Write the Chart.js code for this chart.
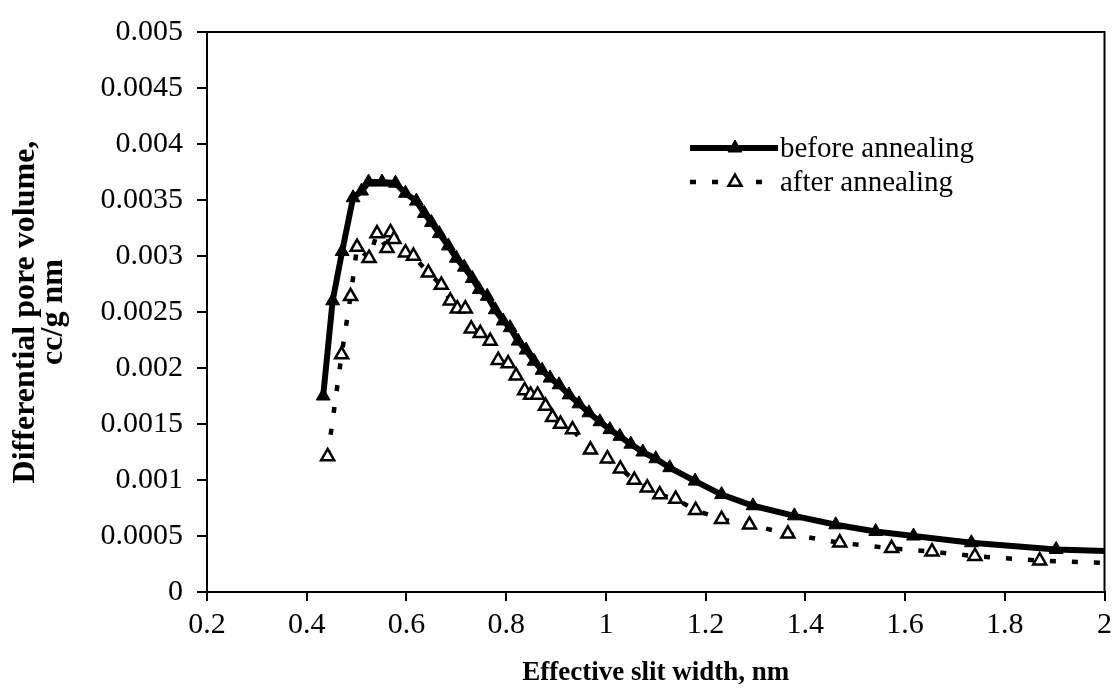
<!DOCTYPE html>
<html>
<head>
<meta charset="utf-8">
<title>Differential pore volume</title>
<script src="https://cdn.jsdelivr.net/npm/chart.js@4.4.1/dist/chart.umd.min.js"></script>
<style>
  html, body { margin: 0; padding: 0; background: #ffffff; }
  #wrap { width: 1118px; height: 696px; }
</style>
</head>
<body>
<div id="wrap"><canvas id="chart" width="1118" height="696"></canvas></div>
<script>
// Axis ticks
const xTicks = [0.2, 0.4, 0.6, 0.8, 1, 1.2, 1.4, 1.6, 1.8, 2];
const xTickLabels = ['0.2', '0.4', '0.6', '0.8', '1', '1.2', '1.4', '1.6', '1.8', '2'];
const yTicks = [0, 0.0005, 0.001, 0.0015, 0.002, 0.0025, 0.003, 0.0035, 0.004, 0.0045, 0.005];
const yTickLabels = ['0', '0.0005', '0.001', '0.0015', '0.002', '0.0025', '0.003', '0.0035', '0.004', '0.0045', '0.005'];

// Series names and axis titles
const seriesNames = ['before annealing', 'after annealing'];
const xTitle = 'Effective slit width, nm';
const yTitle = ['Differential pore volume,', 'cc/g nm'];

// Before annealing: slit width (nm) and differential pore volume (cc/g nm)
const beforeX = [0.433, 0.452, 0.471, 0.493, 0.510, 0.524, 0.551, 0.578, 0.598, 0.620,
                 0.636, 0.650, 0.666, 0.684, 0.700, 0.716, 0.732, 0.746, 0.762, 0.778,
                 0.794, 0.808, 0.824, 0.840, 0.856, 0.872, 0.888, 0.906, 0.926, 0.946,
                 0.966, 0.988, 1.008, 1.028, 1.050, 1.074, 1.100, 1.128, 1.179, 1.232,
                 1.295, 1.378, 1.461, 1.541, 1.617, 1.733, 1.903, 2.100];
const beforeY = [0.00175, 0.00260, 0.00304, 0.00352, 0.00358, 0.00366, 0.00366, 0.00365, 0.00356, 0.00349,
                 0.00338, 0.00330, 0.00320, 0.00309, 0.00298, 0.00290, 0.00280, 0.00270, 0.00264, 0.00252,
                 0.00242, 0.00236, 0.00224, 0.00216, 0.00206, 0.00198, 0.00191, 0.00185, 0.00176, 0.00168,
                 0.00160, 0.00152, 0.00145, 0.00139, 0.00132, 0.00125, 0.00119, 0.00111, 0.00099, 0.00087,
                 0.00077, 0.00068, 0.00060, 0.00054, 0.00050, 0.00044, 0.00038, 0.00035];

// After annealing
const afterX = [0.442, 0.470, 0.488, 0.501, 0.525, 0.541, 0.561, 0.568, 0.575, 0.598,
                0.614, 0.644, 0.670, 0.688, 0.702, 0.718, 0.730, 0.748, 0.768, 0.784,
                0.804, 0.820, 0.837, 0.849, 0.863, 0.879, 0.893, 0.909, 0.933, 0.969,
                1.003, 1.029, 1.057, 1.083, 1.108, 1.140, 1.180, 1.232, 1.288, 1.365,
                1.469, 1.573, 1.654, 1.740, 1.870, 2.060];
const afterY = [0.00121, 0.00212, 0.00264, 0.00308, 0.00298, 0.00320, 0.00307, 0.00321, 0.00315, 0.00303,
                0.00300, 0.00285, 0.00274, 0.00260, 0.00253, 0.00253, 0.00235, 0.00231, 0.00224, 0.00207,
                0.00204, 0.00193, 0.00180, 0.00176, 0.00176, 0.00166, 0.00156, 0.00150, 0.00145, 0.00127,
                0.00119, 0.00110, 0.00100, 0.00093, 0.00087, 0.00083, 0.00073, 0.00065, 0.00060, 0.00052,
                0.00044, 0.00039, 0.00036, 0.00032, 0.00028, 0.00025];

const toPoints = (xs, ys) => xs.map((x, i) => ({ x: x, y: ys[i] }));

const SERIF = '"Liberation Serif", "Times New Roman", "DejaVu Serif", serif';

// Frame on the top and right of the plot area
const framePlugin = {
  id: 'frame',
  afterDraw(chart) {
    const { ctx, chartArea: a } = chart;
    ctx.save();
    ctx.strokeStyle = '#000';
    ctx.lineWidth = 2;
    ctx.beginPath();
    ctx.moveTo(a.left, a.top);
    ctx.lineTo(a.right, a.top);
    ctx.lineTo(a.right, a.bottom);
    ctx.stroke();
    ctx.restore();
  }
};

// Legend drawn inside the plot area, using each dataset's own styling
const insetLegend = {
  id: 'insetLegend',
  afterDraw(chart) {
    const ctx = chart.ctx;
    const rows = [{ y: 148 }, { y: 182 }];
    const x0 = 690, x1 = 778, xm = 735, xt = 780;
    ctx.save();
    chart.data.datasets.forEach((ds, i) => {
      const y = rows[i].y;
      ctx.save();
      ctx.strokeStyle = ds.borderColor;
      ctx.lineWidth = ds.borderWidth;
      ctx.lineCap = 'butt';
      ctx.setLineDash(ds.borderDash || []);
      ctx.beginPath();
      ctx.moveTo(x0, y);
      ctx.lineTo(x1, y);
      ctx.stroke();
      ctx.restore();
      ctx.save();
      ctx.fillStyle = ds.pointBackgroundColor;
      ctx.strokeStyle = ds.pointBorderColor;
      ctx.lineWidth = ds.pointBorderWidth;
      Chart.helpers.drawPoint(ctx, {
        pointStyle: 'triangle', radius: ds.pointRadius, rotation: 0,
        borderWidth: ds.pointBorderWidth
      }, xm, y);
      ctx.restore();
      ctx.fillStyle = '#000';
      ctx.font = '29px ' + SERIF;
      ctx.textAlign = 'left';
      ctx.textBaseline = 'middle';
      ctx.fillText(ds.label, xt, y + 1);
    });
    ctx.restore();
  }
};

new Chart(document.getElementById('chart'), {
  type: 'scatter',
  data: {
    datasets: [
      {
        label: seriesNames[0],
        data: toPoints(beforeX, beforeY),
        showLine: true,
        borderColor: '#000',
        borderWidth: 6,
        pointStyle: 'triangle',
        pointRadius: 8,
        pointBackgroundColor: '#000',
        pointBorderColor: '#000',
        pointBorderWidth: 1,
        tension: 0
      },
      {
        label: seriesNames[1],
        data: toPoints(afterX, afterY),
        showLine: true,
        borderColor: '#000',
        borderWidth: 4.5,
        borderDash: [6, 16],
        pointStyle: 'triangle',
        pointRadius: 7.5,
        pointBackgroundColor: '#fff',
        pointBorderColor: '#000',
        pointBorderWidth: 2.5,
        tension: 0
      }
    ]
  },
  options: {
    responsive: false,
    devicePixelRatio: 1,
    animation: false,
    layout: { padding: { top: 24, right: 10, left: 0, bottom: 0 } },
    plugins: {
      legend: { display: false },
      tooltip: { enabled: false }
    },
    scales: {
      x: {
        type: 'linear',
        min: 0.2,
        max: 2,
        afterBuildTicks: (s) => { s.ticks = xTicks.map(v => ({ value: v })); },
        afterFit: (s) => { s.height = 104; },
        ticks: {
          color: '#000',
          font: { family: SERIF, size: 30 },
          padding: 6,
          maxRotation: 0,
          autoSkip: false,
          callback: (v, i) => xTickLabels[i]
        },
        grid: { drawOnChartArea: false, drawTicks: true, tickLength: 9, color: '#000', lineWidth: 2 },
        border: { display: true, color: '#000', width: 2 },
        title: {
          display: true,
          text: xTitle,
          color: '#000',
          font: { family: SERIF, size: 27, weight: 'bold' },
          padding: { top: 0, bottom: 7 }
        }
      },
      y: {
        type: 'linear',
        min: 0,
        max: 0.005,
        afterBuildTicks: (s) => { s.ticks = yTicks.map(v => ({ value: v })); },
        afterFit: (s) => { s.width = 207; },
        ticks: {
          color: '#000',
          font: { family: SERIF, size: 30 },
          padding: 14,
          autoSkip: false,
          callback: (v, i) => yTickLabels[i]
        },
        grid: { drawOnChartArea: false, drawTicks: true, tickLength: 10, color: '#000', lineWidth: 2 },
        border: { display: true, color: '#000', width: 2 },
        title: {
          display: true,
          text: yTitle,
          color: '#000',
          font: { family: SERIF, size: 32, weight: 'bold', lineHeight: '28px' },
          padding: { top: 12, bottom: 0 }
        }
      }
    }
  },
  plugins: [framePlugin, insetLegend]
});
</script>
</body>
</html>
